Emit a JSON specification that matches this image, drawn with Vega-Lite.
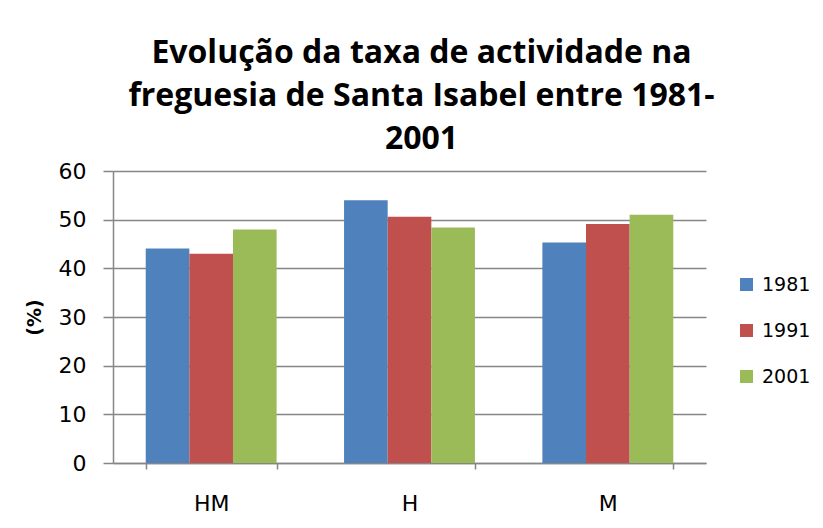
{
  "$schema": "https://vega.github.io/schema/vega-lite/v6.json",
  "width": 593,
  "height": 292,
  "autosize": "none",
  "padding": {"left": 113, "top": 171, "right": 117, "bottom": 65},
  "background": "white",
  "title": {
    "text": ["Evolução da taxa de actividade na", "freguesia de Santa Isabel entre 1981-", "2001"],
    "font": "Open Sans",
    "fontSize": 32,
    "fontWeight": "bold",
    "color": "#000000",
    "lineHeight": 43,
    "anchor": "middle",
    "dx": 12,
    "offset": 4
  },
  "data": {
    "values": [
      {"cat": "HM", "year": "1981", "value": 44.1},
      {"cat": "HM", "year": "1991", "value": 43.0},
      {"cat": "HM", "year": "2001", "value": 48.0},
      {"cat": "H", "year": "1981", "value": 54.0},
      {"cat": "H", "year": "1991", "value": 50.6},
      {"cat": "H", "year": "2001", "value": 48.4},
      {"cat": "M", "year": "1981", "value": 45.3},
      {"cat": "M", "year": "1991", "value": 49.1},
      {"cat": "M", "year": "2001", "value": 51.0}
    ]
  },
  "mark": {"type": "bar"},
  "encoding": {
    "x": {
      "field": "cat",
      "type": "nominal",
      "sort": ["HM", "H", "M"],
      "scale": {"paddingInner": 0.34, "paddingOuter": 0.165},
      "axis": {
        "title": null,
        "labelAngle": 0,
        "labelFont": "DejaVu Sans",
        "labelFontSize": 22,
        "labelColor": "#000000",
        "labelPadding": 24,
        "tickBand": "extent",
        "tickSize": 6,
        "tickColor": "#868686",
        "tickWidth": 1.5,
        "domainColor": "#868686",
        "domainWidth": 1.5
      }
    },
    "xOffset": {"field": "year", "type": "nominal"},
    "y": {
      "field": "value",
      "type": "quantitative",
      "scale": {"domain": [0, 60]},
      "axis": {
        "title": "(%)",
        "titleFont": "DejaVu Sans",
        "titleFontSize": 19,
        "titleFontWeight": "bold",
        "titleColor": "#000000",
        "titlePadding": 14,
        "values": [0, 10, 20, 30, 40, 50, 60],
        "labelFont": "DejaVu Sans",
        "labelFontSize": 22,
        "labelColor": "#000000",
        "labelPadding": 17,
        "tickSize": 10,
        "tickColor": "#868686",
        "tickWidth": 1.5,
        "domainColor": "#868686",
        "domainWidth": 1.5,
        "grid": true,
        "gridColor": "#868686",
        "gridWidth": 1.5
      }
    },
    "color": {
      "field": "year",
      "type": "nominal",
      "scale": {"domain": ["1981", "1991", "2001"], "range": ["#4F81BD", "#C0504D", "#9BBB59"]},
      "legend": {
        "title": null,
        "orient": "none",
        "legendX": 624,
        "legendY": 104,
        "symbolType": "square",
        "symbolSize": 169,
        "symbolStrokeWidth": 0,
        "labelFont": "DejaVu Sans",
        "labelFontSize": 19,
        "labelColor": "#000000",
        "rowPadding": 26,
        "labelOffset": 6
      }
    }
  },
  "config": {
    "view": {"stroke": null}
  }
}
